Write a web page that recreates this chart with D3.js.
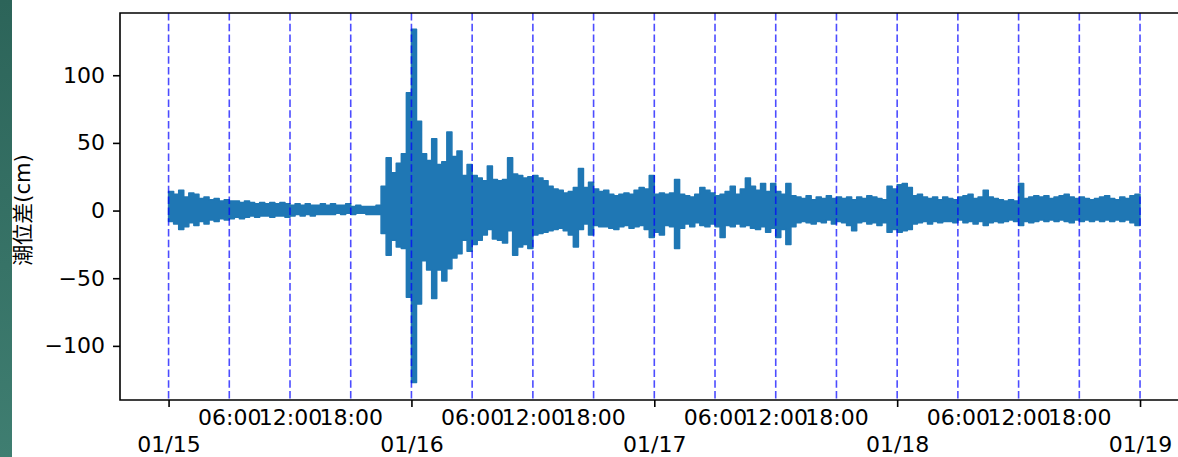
<!DOCTYPE html>
<html>
<head>
<meta charset="utf-8">
<script src="https://cdn.jsdelivr.net/npm/d3@7"></script>
<style>
  body { margin: 0; background: #fff; }
  svg { display: block; font-family: "DejaVu Sans", "Noto Sans CJK JP", sans-serif; }
</style>
</head>
<body>
<div id="chart"></div>
<script>
// tick labels
var dayLabels = ["01/15", "01/16", "01/17", "01/18", "01/19"];
var hourLabels = ["06:00", "12:00", "18:00"];
var yTicks = [-100, -50, 0, 50, 100];

// half-hour highs / lows (cm), one pair per 30 min
var high15 = [14,12,15,10,13,12,9,10,8,9,7,8, 7,7,6,7,6,5,6,5,6,5,6,5,
              4,5,4,5,4,4,5,4,5,4,4,5, 3,4,3,3,3,4,18,39,28,35,42,87];
var low15  = [-8,-10,-14,-12,-9,-11,-8,-10,-7,-8,-6,-7, -6,-5,-6,-5,-4,-5,-4,-4,-5,-4,-4,-5,
              -4,-3,-4,-3,-4,-3,-3,-3,-3,-2,-3,-2, -3,-2,-2,-3,-3,-3,-17,-33,-22,-27,-28,-64];
var high16 = [134,66,42,37,53,34,36,58,40,44,26,34, 26,24,22,33,23,22,23,39,27,26,24,25,
              26,24,22,18,16,15,13,14,17,31,17,21, 16,14,15,12,11,12,13,12,15,17,16,26];
var low16  = [-127,-69,-37,-44,-65,-44,-52,-43,-35,-32,-22,-30, -25,-22,-18,-14,-21,-22,-24,-15,-33,-27,-25,-28,
              -18,-17,-16,-15,-14,-13,-15,-18,-27,-14,-10,-18, -11,-12,-12,-13,-14,-12,-11,-13,-12,-11,-14,-20];
var high17 = [12,13,12,13,23,12,11,10,12,17,15,13, 11,12,14,18,12,16,24,18,15,20,14,20,
              14,12,20,11,10,9,11,8,10,9,11,9, 10,9,10,8,10,9,11,10,9,8,18,16];
var low17  = [-16,-18,-11,-12,-28,-13,-10,-12,-9,-11,-12,-10, -12,-20,-11,-12,-10,-12,-11,-13,-14,-12,-16,-13,
              -20,-14,-25,-12,-9,-8,-9,-10,-8,-9,-7,-10, -8,-9,-11,-15,-9,-8,-10,-9,-11,-9,-16,-14];
var high18 = [19,20,17,11,12,10,9,10,8,10,9,8, 10,11,12,9,10,15,10,9,8,7,8,7,
              20,9,10,11,10,11,9,10,11,12,10,9, 10,9,8,9,10,11,9,8,10,9,11,12];
var low18  = [-16,-15,-14,-10,-9,-8,-10,-8,-9,-8,-8,-9, -7,-9,-8,-10,-8,-11,-9,-8,-9,-8,-7,-8,
              -11,-8,-9,-8,-7,-8,-7,-8,-7,-8,-9,-7, -8,-7,-8,-7,-8,-7,-8,-7,-8,-7,-9,-11];

var W = 1178, H = 457;
var plotLeft = 120, plotTop = 13, plotBottom = 400, plotRight = 1188.6;
var FS = 22;

var start = Date.UTC(2022, 0, 15);
var HOUR = 3600 * 1000;

// one record per half hour with its high and low
var data = [];
[[high15, low15], [high16, low16], [high17, low17], [high18, low18]].forEach(function(pair, d) {
  pair[0].forEach(function(v, k) {
    data.push({t: new Date(start + d * 24 * HOUR + k * HOUR / 2), hi: v, lo: pair[1][k]});
  });
});
// close the last half hour at 01/19 00:00
var last = data[data.length - 1];
data.push({t: new Date(start + 96 * HOUR), hi: last.hi, lo: last.lo});

var x = d3.scaleUtc()
  .domain([new Date(start - 4.8 * HOUR), new Date(start + (96 + 4.8) * HOUR)])
  .range([plotLeft, plotRight]);
var y = d3.scaleLinear().domain([-140, 146]).range([plotBottom, plotTop]);

var svg = d3.select("#chart").append("svg")
  .attr("width", W).attr("height", H);

var defs = svg.append("defs");
defs.append("clipPath").attr("id", "clip")
  .append("rect")
    .attr("x", plotLeft).attr("y", plotTop)
    .attr("width", plotRight - plotLeft).attr("height", plotBottom - plotTop);

// data band
svg.append("path")
  .datum(data)
  .attr("clip-path", "url(#clip)")
  .attr("fill", "#1f77b4")
  .attr("stroke", "#1f77b4")
  .attr("stroke-width", 1.5)
  .attr("stroke-linejoin", "round")
  .attr("d", d3.area()
    .curve(d3.curveStepAfter)
    .x(function(d) { return x(d.t); })
    .y0(function(d) { return y(d.lo); })
    .y1(function(d) { return y(d.hi); }));

// dashed lines every 6 hours
var sixHours = d3.utcHour.every(6).range(new Date(start), new Date(start + 97 * HOUR));
svg.selectAll(".vline")
  .data(sixHours)
  .enter().append("line")
    .attr("x1", function(d) { return x(d); }).attr("x2", function(d) { return x(d); })
    .attr("y1", plotTop).attr("y2", plotBottom)
    .attr("stroke", "blue").attr("stroke-opacity", 0.7)
    .attr("stroke-width", 1.6)
    .attr("stroke-dasharray", "7.5,3.3");

// frame
svg.append("path")
  .attr("d", "M" + plotRight + "," + plotTop + "H" + plotLeft + "V" + plotBottom + "H" + plotRight)
  .attr("fill", "none").attr("stroke", "#000").attr("stroke-width", 1.6);

// y axis
var yAxis = svg.append("g")
  .attr("transform", "translate(" + plotLeft + ",0)")
  .call(d3.axisLeft(y).tickValues(yTicks).tickSize(7).tickPadding(8)
    .tickFormat(function(d) { return d < 0 ? "\u2212" + Math.abs(d) : d; }));
yAxis.select(".domain").remove();
yAxis.selectAll("line").attr("stroke-width", 1.6);
yAxis.selectAll("text").attr("font-size", FS).attr("font-family", "DejaVu Sans").attr("fill", "#000");

// x axis: days (lower row)
var dayDates = dayLabels.map(function(s, i) { return new Date(start + i * 24 * HOUR); });
var xMajor = svg.append("g")
  .attr("transform", "translate(0," + plotBottom + ")")
  .call(d3.axisBottom(x).tickValues(dayDates).tickSize(7)
    .tickFormat(function(d, i) { return dayLabels[i]; }));
xMajor.select(".domain").remove();
xMajor.selectAll("line").attr("stroke-width", 1.6);
xMajor.selectAll("text").attr("y", 52).attr("dy", 0)
  .attr("font-size", FS).attr("font-family", "DejaVu Sans").attr("fill", "#000");

// x axis: hours (upper row)
var hourDates = sixHours.filter(function(d) { return d.getUTCHours() !== 0; });
var xMinor = svg.append("g")
  .attr("transform", "translate(0," + plotBottom + ")")
  .call(d3.axisBottom(x).tickValues(hourDates).tickSize(0)
    .tickFormat(function(d) { return hourLabels[d.getUTCHours() / 6 - 1]; }));
xMinor.select(".domain").remove();
xMinor.selectAll("text").attr("y", 25).attr("dy", 0)
  .attr("font-size", FS).attr("font-family", "DejaVu Sans").attr("fill", "#000");

// y label
svg.append("text")
  .attr("transform", "translate(23,210) rotate(-90)")
  .attr("text-anchor", "middle")
  .attr("dominant-baseline", "central")
  .attr("font-size", 21)
  .text("潮位差(cm)");

// teal strip on the left edge
var grad = defs.append("linearGradient")
  .attr("id", "strip").attr("x1", 0).attr("x2", 0).attr("y1", 0).attr("y2", 1);
grad.append("stop").attr("offset", 0).attr("stop-color", "#2c6459");
grad.append("stop").attr("offset", 1).attr("stop-color", "#3f7e71");
svg.append("rect").attr("x", 0).attr("y", 0).attr("width", 12).attr("height", H)
  .attr("fill", "url(#strip)");
</script>
</body>
</html>
